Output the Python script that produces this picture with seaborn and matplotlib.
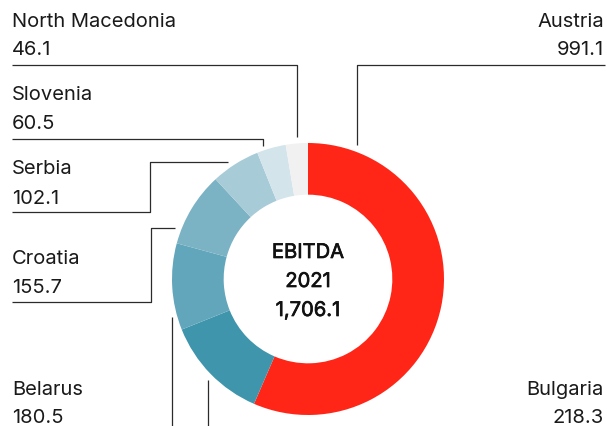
import numpy as np
import matplotlib
matplotlib.use("Agg")
import matplotlib.pyplot as plt
import matplotlib.patheffects as pe
import seaborn as sns

sns.set_theme(style="white")
plt.rcParams['font.family'] = ['Inter', 'DejaVu Sans']

# Data
countries = ['Austria', 'Bulgaria', 'Belarus', 'Croatia', 'Serbia', 'Slovenia', 'North Macedonia']
ebitda = [991.1, 218.3, 180.5, 155.7, 102.1, 60.5, 46.1]
colors = ['#FF2618', '#3F95AC', '#62A6BC', '#7BB2C4', '#A7CBD7', '#D3E4EB', '#F1F1F1']
center_lines = ['EBITDA', '2021', '1,706.1']

W, H = 607, 427
fig = plt.figure(figsize=(W / 100, H / 100), dpi=100)
ax = fig.add_axes([0, 0, 1, 1])

def py(y):
    # pixel row (top-down) -> data y
    return H - y

cx, cy, r = 308, 280, 136
ax.pie(ebitda, colors=colors, startangle=90, counterclock=False,
       center=(cx, py(cy)), radius=r, frame=True,
       wedgeprops=dict(width=r * 0.38, linewidth=0))
ax.set_xlim(0, W)
ax.set_ylim(0, H)
ax.set_aspect('equal')
ax.axis('off')

# leader lines (pixel paths)
line_kw = dict(color='#2b2b2b', lw=0.9, solid_capstyle='butt')
leaders = {
    'Austria': [(605, 65.5), (357, 65.5), (357, 146)],
    'North Macedonia': [(12, 65.5), (297, 65.5), (297, 138)],
    'Slovenia': [(12, 140), (263, 140), (263, 147)],
    'Serbia': [(12, 212.5), (150, 212.5), (150, 163), (228, 163)],
    'Croatia': [(12, 302.5), (151, 302.5), (151, 229), (175, 229)],
    'Belarus': [(172, 318), (172, 430)],
    'Bulgaria': [(208, 381), (208, 430)],
}
for name, pts in leaders.items():
    xs = [p[0] for p in pts]
    ys = [py(p[1]) for p in pts]
    ax.plot(xs, ys, **line_kw)

# labels: (x, name baseline, value baseline, ha)
label_pos = {
    'North Macedonia': (12, 27, 55, 'left'),
    'Slovenia': (12, 100, 129, 'left'),
    'Serbia': (12, 174, 204, 'left'),
    'Croatia': (12, 264, 293, 'left'),
    'Belarus': (12, 395, 423, 'left'),
    'Austria': (604, 27, 55, 'right'),
    'Bulgaria': (604, 395, 423, 'right'),
}
fs = 14.5
for name, val in zip(countries, ebitda):
    x, yb1, yb2, ha = label_pos[name]
    ax.text(x, py(yb1), name, ha=ha, va='baseline', fontsize=fs, color='#1a1a1a')
    ax.text(x, py(yb2), f'{val:,.1f}', ha=ha, va='baseline', fontsize=fs, color='#1a1a1a')

# centre text, a touch heavier than the labels
medium = [pe.withStroke(linewidth=0.5, foreground='#111111')]
for txt, yb in zip(center_lines, [259, 288, 317]):
    ax.text(cx, py(yb), txt, ha='center', va='baseline', fontsize=fs,
            color='#111111', path_effects=medium)

fig.savefig('out.png', dpi=100)
